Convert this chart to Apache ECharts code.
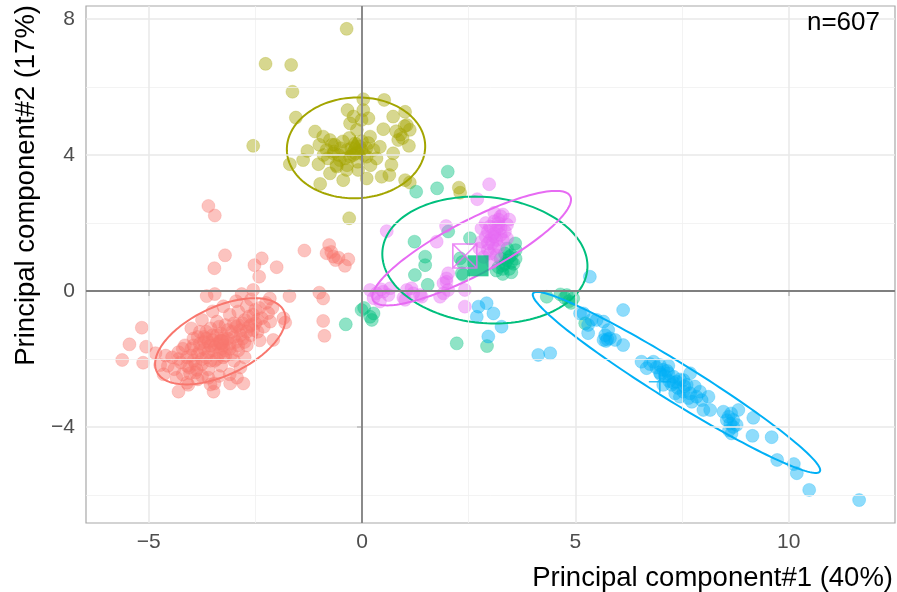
<!DOCTYPE html>
<html><head><meta charset="utf-8">
<script src="https://cdn.jsdelivr.net/npm/echarts@6/dist/echarts.min.js"></script>
<style>html,body{margin:0;padding:0;background:#fff}#c{width:897px;height:592px}</style>
</head><body><div id="c"></div>
<script>
const xTicks=[-5,0,5,10];
const yTicks=[-4,0,4,8];
const xMinor=[-2.5,2.5,7.5];
const yMinor=[-6,-2,2,6];
const xRange=[-6.468,12.491];
const yRange=[-6.824,8.382];
const groupColors=['#F8766D','#A3A500','#00BF7D','#00B0F6','#E76BF3'];

const redPts=[
[-3.60,2.50],[-3.45,2.22],[-3.21,1.05],[-3.46,0.67],[-2.52,0.76],[-2.35,0.96],[-2.41,0.42],[-2.00,0.70],[-1.35,1.19],[-0.77,1.35],[-0.83,1.11],[-0.67,1.01],[-0.55,0.98],[-0.40,0.74],[-0.32,0.93],[-0.62,0.91],[-0.72,1.15],
[-1.70,-0.15],[-1.00,-0.05],[-0.91,-0.22],[-0.91,-0.88],[-0.88,-1.32],
[-5.16,-1.08],[-5.45,-1.57],[-5.62,-2.03],[-5.13,-2.11],[-5.06,-1.64],[-4.84,-1.83],[-4.73,-2.18],
[-4.30,-2.96],[-4.07,-2.76],[-3.48,-2.96],[-3.46,-2.72],[-3.09,-2.72],[-2.78,-2.72],[-2.93,-2.55],
[-3.64,-0.15],[-3.45,-0.09],[-2.82,-0.09],[-2.55,0.03],[-2.16,-0.22],[-1.84,-0.80],[-1.80,-0.93],[-2.08,-1.44],[-4.03,-2.42],[-3.87,-2.32],
[-4.55,-2.2],[-4.45,-1.95],[-4.4,-2.3],[-4.3,-1.8],[-4.25,-2.1],[-4.2,-2.45],[-4.15,-1.6],[-4.1,-1.95],[-4.05,-2.25],[-4.0,-1.7],[-3.95,-1.4],[-3.95,-2.05],[-3.9,-2.4],[-3.85,-1.85],[-3.8,-1.55],[-3.8,-1.2],[-3.75,-2.15],[-3.7,-1.7],[-3.7,-1.35],[-3.65,-1.95],[-3.6,-1.5],[-3.6,-2.3],[-3.55,-1.1],[-3.5,-1.75],[-3.5,-1.3],[-3.45,-2.05],[-3.4,-1.55],[-3.4,-0.9],[-3.35,-1.85],[-3.3,-1.25],[-3.3,-2.2],[-3.25,-1.6],[-3.2,-1.0],[-3.2,-1.9],[-3.15,-1.4],[-3.1,-0.7],[-3.1,-1.7],[-3.05,-1.2],[-3.0,-2.05],[-3.0,-0.95],[-2.95,-1.5],[-2.9,-1.75],[-2.9,-0.6],[-2.85,-1.15],[-2.8,-1.4],[-2.75,-0.85],[-2.7,-1.6],[-2.7,-0.45],[-2.65,-1.05],[-2.6,-1.3],[-2.55,-0.7],[-2.5,-0.95],[-2.45,-1.2],[-2.4,-0.5],[-2.35,-0.8],[-2.3,-1.05],[-2.25,-0.35],[-2.2,-0.65],[-2.15,-0.9],[-2.1,-0.5],[-3.85,-2.6],[-3.6,-2.55],[-3.35,-2.5],[-3.1,-2.45],[-2.85,-2.25],[-4.35,-2.55],[-4.65,-2.45],[-4.6,-1.9],[-4.0,-1.1],[-3.75,-0.85],[-3.5,-0.6],[-3.25,-0.45],[-2.95,-0.3],[-2.6,-0.25],[-2.4,-1.45],[-2.75,-1.95],[-3.55,-2.75],[-3.75,-2.5],[-4.1,-2.7],
[-4.3,-2.0],[-4.2,-1.7],[-4.1,-2.2],[-4.0,-1.9],[-3.95,-1.6],[-3.9,-2.15],[-3.85,-1.35],[-3.8,-1.75],[-3.75,-2.0],[-3.7,-1.5],[-3.65,-1.2],[-3.6,-1.8],[-3.55,-2.05],[-3.5,-1.45],[-3.45,-1.65],[-3.4,-1.3],[-3.4,-2.0],[-3.35,-1.05],[-3.3,-1.7],[-3.25,-1.4],[-3.2,-1.75],[-3.15,-1.15],[-3.1,-1.55],[-3.05,-1.85],[-3.0,-1.35],[-2.95,-1.05],[-2.9,-1.6],[-2.85,-1.3],[-2.8,-0.95],[-2.75,-1.5],[-2.7,-1.2],[-2.65,-0.75],[-2.6,-1.0],[-2.55,-1.15],[-2.5,-0.55],[-2.45,-0.85],[-3.55,-1.6],[-3.25,-1.95],[-3.65,-1.4],[-2.9,-1.0]
];
const olivePts=[
[-0.36,7.71],[-2.26,6.68],[-1.66,6.65],[-1.63,5.86],[-1.55,5.10],[-2.55,4.27],[-1.69,3.73],[-0.98,3.15],[-0.34,5.32],[0.03,5.64],[0.52,5.62],[0.73,5.13],[1.01,5.27],[1.05,4.88],[1.12,4.74],[0.50,4.76],[0.85,4.44],[1.10,4.27],[0.73,4.05],[0.69,3.71],[0.64,3.41],[1.01,3.26],[1.12,3.19],[0.46,3.36],[0.11,3.31],[-0.44,3.26],[-1.10,4.69],[-1.28,4.12],[-1.38,3.85],[-1.02,3.73],[-0.75,4.44],[-0.67,4.05],[-0.59,3.66],[-0.75,3.46],[-0.36,3.56],[-0.16,4.34],[-0.12,4.74],[-0.20,5.13],[0.03,5.32],[0.15,5.08],[0.19,4.54],[0.27,4.15],[0.34,3.90],[0.11,3.95],[-0.28,3.95],[-0.52,3.85],[-0.83,4.15],[-0.91,4.54],[-0.28,4.93],[-0.01,5.03],[0.42,4.24],[-0.09,3.56],[-0.35,3.70],[-0.01,4.15],[-0.64,4.30],[-0.30,2.14],[2.27,3.04],[2.30,2.89],
[-0.5,4.2],[-0.2,4.0],[0.0,4.4],[-0.4,3.9],[-0.7,4.3],[-0.1,3.8],[0.1,4.2],[-0.3,4.5],[0.2,3.7],[-0.6,3.7],[-0.9,4.0],[-1.0,4.3],[0.9,4.6],[0.95,4.5],[0.8,4.7],[1.0,4.85],
[-0.55,4.0],[-0.25,4.2],[0.05,4.0],[-0.45,4.4],[-0.8,3.9],[-0.15,4.05],[0.15,4.35],[-0.65,4.1],[-0.35,4.15],[-0.05,4.25]
];
const greenPts=[
[2.01,3.51],[1.27,2.92],[1.76,3.02],[1.23,1.45],[1.48,1.01],[1.48,0.76],[1.24,0.47],[1.54,0.18],[2.02,1.75],[2.30,0.96],[2.53,1.55],[2.34,0.52],[2.37,0.47],[2.35,0.85],[3.59,1.40],
[3.3,0.75],[3.4,0.9],[3.5,1.05],[3.55,0.8],[3.35,1.1],[3.45,0.65],[3.6,1.2],[3.25,0.95],[3.5,0.55],[3.2,0.7],[3.6,0.95],[3.4,1.25],[3.15,0.6],[3.3,0.5],
[3.35,0.8],[3.45,1.0],[3.3,0.65],[3.5,0.85],
[4.33,-0.17],[4.65,-0.1],[4.75,-0.2],[4.85,-0.3],[4.95,-0.22],[4.8,-0.12],[4.9,-0.35],[5.23,-0.95],
[-0.01,-0.56],[0.19,-0.76],[0.23,-0.85],[0.27,-0.66],[-0.38,-0.98],[0.05,-0.5],
[2.22,-1.54],[2.93,-1.62]
];
const bluePts=[
[5.34,0.42],[6.12,-0.56],[4.13,-1.88],[4.41,-1.83],[5.19,-0.66],[5.38,-0.85],[5.30,-1.24],[5.66,-0.90],[5.77,-1.15],[5.66,-1.44],[5.81,-1.39],[5.93,-1.44],[6.12,-1.59],[5.72,-1.47],[6.55,-2.08],[6.67,-2.27],[6.83,-2.08],[6.98,-2.18],[7.06,-2.32],[7.18,-2.42],[7.30,-2.52],[7.37,-2.67],[7.53,-2.62],[7.69,-2.42],[7.06,-2.76],[7.34,-3.01],[7.45,-3.11],[7.69,-3.01],[7.73,-3.26],[7.80,-2.81],[7.92,-2.96],[7.96,-3.21],[8.12,-3.11],[8.00,-3.50],[8.16,-3.50],[8.47,-3.55],[8.59,-3.70],[8.70,-3.79],[8.82,-3.50],[8.78,-3.94],[8.63,-3.90],[8.66,-4.19],[9.17,-3.73],[9.15,-4.26],[9.60,-4.30],[9.73,-4.97],[10.12,-5.09],[10.19,-5.36],[10.48,-5.85],[11.65,-6.15],[6.98,-2.40],[7.18,-2.20],[7.61,-2.76],[7.26,-2.76],[7.84,-3.11],[7.53,-2.96],
[6.9,-2.25],[7.1,-2.5],[7.2,-2.65],[7.4,-2.85],[7.55,-2.8],[7.65,-3.15],[6.75,-2.15],[7.0,-2.45],[8.55,-3.8],[8.65,-3.6],[8.7,-4.0],[8.6,-4.1],
[7.15,-2.35],[7.3,-2.7],[7.45,-2.6],[5.7,-1.3],[5.75,-1.42],
[2.73,-0.46],[2.92,-0.36],[3.08,-0.66],[2.69,-0.76],[3.27,-1.05],[2.96,-1.34],
[5.11,-0.66],[5.30,-1.0],[5.50,-0.85]
];
const magentaPts=[
[2.98,3.14],[2.70,2.70],[0.58,1.76],[1.97,1.91],[1.75,1.45],[2.80,1.84],[1.98,0.27],[2.02,0.52],[1.91,-0.07],[2.41,0.03],[2.41,-0.46],[1.91,0.23],[2.02,0.03],[1.83,-0.17],[1.98,0.37],
[1.05,0.03],[1.20,-0.07],[1.36,-0.12],[1.16,0.08],[1.01,-0.26],[0.97,-0.20],[1.40,-0.17],
[0.19,0.03],[0.34,-0.07],[0.50,-0.02],[0.62,-0.12],[0.27,-0.21],[0.42,-0.31],[0.66,0.08],[0.45,0.05],
[2.85,1.0],[2.95,1.2],[3.05,1.4],[3.1,1.6],[3.15,1.8],[3.2,2.0],[3.25,2.2],[3.0,1.9],[2.9,1.6],[3.3,1.5],[3.35,1.75],[3.4,1.95],[3.2,1.3],[3.0,1.1],[2.8,1.45],[3.1,2.3],[3.3,2.25],[3.45,2.1],[2.95,1.75],[3.15,1.05],[3.05,0.85],[2.75,1.25],[3.25,1.65],[3.1,2.05],[2.9,2.0],[3.4,1.55],
[3.0,1.5],[3.1,1.7],[3.2,1.9],[3.15,1.5],[3.25,1.85],[3.05,1.65],[3.2,2.1],[3.1,1.25],[2.95,1.4]
];
const groupPts=[redPts,olivePts,greenPts,bluePts,magentaPts];
// ellipse: centre x, centre y, half-axis u (x,y), half-axis v (x,y)
const ellipses=[
[-3.32,-1.48,1.49,0.89,0.342,-0.903],
[-0.14,4.21,1.62,0.09,0.05,-1.48],
[2.88,0.91,2.40,-0.285,-0.138,-1.844],
[7.37,-2.69,3.36,-2.62,-0.235,-0.474],
[2.57,1.26,2.31,1.53,0.295,-0.703]
];
const centroids=[[-3.3,-1.5],[-0.16,4.29],[2.72,0.74],[6.98,-2.67],[2.41,1.03]];

function rgba(hex,a){const n=parseInt(hex.slice(1),16);return 'rgba('+(n>>16&255)+','+(n>>8&255)+','+(n&255)+','+a+')';}
const FONT='"Liberation Sans", Arial, sans-serif';
const fmt=v=>String(v).replace('-','\u2212');

const gridLines=[];
xMinor.forEach(v=>gridLines.push({xAxis:v,lineStyle:{color:'#F0F0F0',width:0.8,type:'solid'}}));
yMinor.forEach(v=>gridLines.push({yAxis:v,lineStyle:{color:'#F0F0F0',width:0.8,type:'solid'}}));
xTicks.forEach(v=>gridLines.push({xAxis:v,lineStyle:{color:'#E8E8E8',width:1.5,type:'solid'}}));
yTicks.forEach(v=>gridLines.push({yAxis:v,lineStyle:{color:'#E8E8E8',width:1.5,type:'solid'}}));
gridLines.push({xAxis:0,lineStyle:{color:'#7F7F7F',width:1.8,type:'solid'}});
gridLines.push({yAxis:0,lineStyle:{color:'#7F7F7F',width:1.8,type:'solid'}});

const series=[{
  type:'scatter',data:[],z:1,silent:true,
  markLine:{silent:true,symbol:['none','none'],label:{show:false},animation:false,data:gridLines}
}];
groupPts.forEach((pts,i)=>{
  series.push({type:'scatter',data:pts,z:3,symbol:'circle',symbolSize:13,silent:true,
    itemStyle:{color:rgba(groupColors[i],0.55),borderColor:rgba(groupColors[i],0.4),borderWidth:0.8}});
});
series.push({
  type:'custom',z:4,silent:true,clip:true,
  data:ellipses.map(e=>[e[0],e[1]]),
  encode:{x:0,y:1},
  renderItem:function(params,api){
    const e=ellipses[params.dataIndex];const pts=[];
    for(let i=0;i<=160;i++){const t=i/160*2*Math.PI;
      pts.push(api.coord([e[0]+e[2]*Math.cos(t)+e[4]*Math.sin(t),e[1]+e[3]*Math.cos(t)+e[5]*Math.sin(t)]));}
    return {type:'polyline',shape:{points:pts},style:{fill:null,stroke:groupColors[params.dataIndex],lineWidth:2}};
  }
});
const cSymbols=['circle','triangle','rect','path://M10,0L10,20M0,10L20,10','path://M0,0L20,0L20,20L0,20ZM0,0L20,20M20,0L0,20'];
const cSizes=[16,[22,20],21,22,24];
centroids.forEach((c,i)=>{
  const stroke=(i>=3);
  series.push({type:'scatter',data:[c],z:5,silent:true,symbol:cSymbols[i],symbolSize:cSizes[i],
    itemStyle:stroke?{color:'none',borderColor:groupColors[i],borderWidth:1.6}:{color:groupColors[i]}});
});

const chart=echarts.init(document.getElementById('c'),null,{renderer:'canvas'});
chart.setOption({
  animation:false,
  backgroundColor:'#fff',
  grid:{left:86,right:2,top:6,bottom:69,show:true,borderColor:'#A8A8A8',borderWidth:1.2,backgroundColor:'transparent'},
  xAxis:{type:'value',min:xRange[0],max:xRange[1],
    axisLine:{show:false},splitLine:{show:false},
    axisTick:{show:true,customValues:xTicks,length:5,lineStyle:{color:'#333',width:1.5}},
    axisLabel:{customValues:xTicks,formatter:fmt,fontSize:21,color:'#4D4D4D',fontFamily:FONT,margin:9}},
  yAxis:{type:'value',min:yRange[0],max:yRange[1],
    axisLine:{show:false},splitLine:{show:false},
    axisTick:{show:true,customValues:yTicks,length:5,lineStyle:{color:'#333',width:1.5}},
    axisLabel:{customValues:yTicks,formatter:fmt,fontSize:21,color:'#4D4D4D',fontFamily:FONT,margin:11}},
  graphic:[
    {type:'text',z:100,x:893,y:578,style:{text:'Principal component#1 (40%)',font:'27.5px '+FONT,fill:'#000',align:'right',verticalAlign:'middle',textAlign:'right',textVerticalAlign:'middle'}},
    {type:'text',z:100,x:26,y:5,rotation:Math.PI/2,style:{text:'Principal component#2 (17%)',font:'27.5px '+FONT,fill:'#000',align:'right',verticalAlign:'middle',textAlign:'right',textVerticalAlign:'middle'}},
    {type:'text',z:100,x:880,y:23,style:{text:'n=607',font:'26px '+FONT,fill:'#000',align:'right',verticalAlign:'middle',textAlign:'right',textVerticalAlign:'middle'}}
  ],
  series:series
});
</script></body></html>
